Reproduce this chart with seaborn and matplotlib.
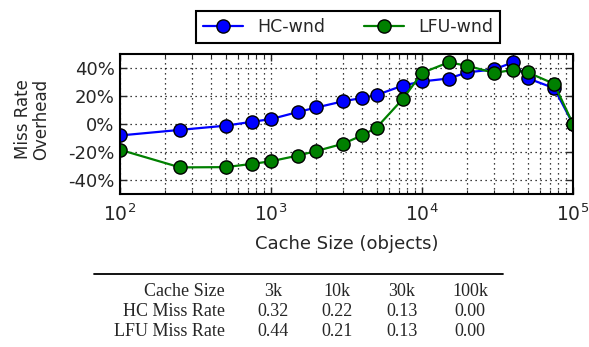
import numpy as np
import pandas as pd
import matplotlib
matplotlib.use('Agg')
import matplotlib.pyplot as plt
from matplotlib.lines import Line2D
from matplotlib.ticker import FuncFormatter
import seaborn as sns

# cache sizes (objects) and miss-rate overhead (%)
sizes = [100, 250, 500, 750, 1000, 1500, 2000, 3000, 4000, 5000, 7500,
         10000, 15000, 20000, 30000, 40000, 50000, 75000, 100000]
hc_wnd = [-8.2, -4.2, -1.2, 1.6, 3.5, 8.5, 11.8, 16.2, 18.6, 20.7, 27.5,
          30.4, 32.5, 36.9, 39.0, 44.0, 32.7, 25.6, 0.0]
lfu_wnd = [-18.4, -31.0, -30.8, -28.5, -26.6, -22.6, -19.3, -14.1, -8.2, -2.6, 18.1,
           36.5, 44.0, 41.6, 36.5, 38.6, 36.9, 28.7, 0.0]

series = ['HC-wnd', 'LFU-wnd']
colors = {'HC-wnd': '#0000ff', 'LFU-wnd': '#008000'}

# table under the chart
tbl_cols = ['Cache Size', '3k', '10k', '30k', '100k']
tbl_hc = ['HC Miss Rate', '0.32', '0.22', '0.13', '0.00']
tbl_lfu = ['LFU Miss Rate', '0.44', '0.21', '0.13', '0.00']

df = pd.DataFrame({
    'size': sizes * 2,
    'overhead': hc_wnd + lfu_wnd,
    'method': ['HC-wnd'] * len(sizes) + ['LFU-wnd'] * len(sizes),
})

sns.set_style('white')
plt.rcParams['font.family'] = ['DejaVu Sans']

fig = plt.figure(figsize=(5.89, 3.47), dpi=100)
ax = fig.add_axes([120/589, 1-194/347, (573-120)/589, (194-54)/347])

sns.lineplot(data=df, x='size', y='overhead', hue='method', hue_order=series,
             palette=colors, marker='o', markersize=9.5, markeredgecolor='black',
             markeredgewidth=1.0, linewidth=1.6, ax=ax, legend=False)

ax.set_xscale('log')
ax.set_xlim(100, 100000)
ax.set_ylim(-50, 50)
ax.set_yticks([-40, -20, 0, 20, 40])
ax.yaxis.set_major_formatter(FuncFormatter(lambda v, p: f'{int(v)}%'))
grid_kw = dict(color='black', linestyle=(0, (1, 3)), linewidth=0.9)
ax.grid(True, which='major', axis='both', **grid_kw)
ax.grid(True, which='minor', axis='x', **grid_kw)
ax.tick_params(which='both', direction='in', top=True, right=True, bottom=True, left=True)
ax.tick_params(which='major', length=5, width=1)
ax.tick_params(which='minor', length=3, width=0.8)
ax.tick_params(axis='y', labelsize=13, pad=4)
ax.tick_params(axis='x', labelsize=13.5, pad=7)
for s in ax.spines.values():
    s.set_color('black')
    s.set_linewidth(1.5)

ax.set_xlabel('Cache Size (objects)', fontsize=13, labelpad=7)
ax.set_ylabel('')
fig.text(32/589, 1-119/347, 'Miss Rate\nOverhead', rotation=90, ha='center',
         va='center', fontsize=12, linespacing=0.95)

handles = [Line2D([], [], color=colors[s], marker='o', markersize=9.5,
                  markeredgecolor='black', linewidth=1.6) for s in series]
leg = fig.legend(handles, series, loc='center', bbox_to_anchor=(348/589, 1-27/347),
                 ncol=2, fancybox=False, edgecolor='black', framealpha=1, fontsize=12.5,
                 handlelength=2.3, handletextpad=0.85, columnspacing=2.2, borderpad=0.4,
                 borderaxespad=0)
leg.get_frame().set_linewidth(1.5)

# table
fig.add_artist(Line2D([94/589, 503/589], [1-274/347, 1-274/347], color='black', linewidth=1.3))
col_x = [225, 273, 337, 402, 470]
row_y = [292, 312, 332]
for r, row in enumerate([tbl_cols, tbl_hc, tbl_lfu]):
    for c, val in enumerate(row):
        fig.text(col_x[c]/589, 1-row_y[r]/347, val, ha='right' if c == 0 else 'center',
                 va='center', fontsize=13, family='Liberation Serif')

fig.savefig('out.png', dpi=100)
